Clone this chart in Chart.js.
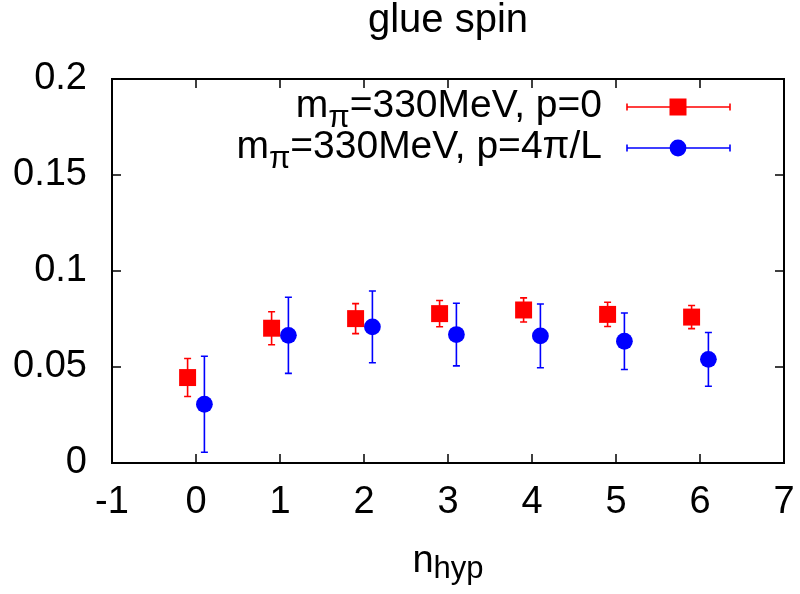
<!DOCTYPE html>
<html>
<head>
<meta charset="utf-8">
<script src="https://cdn.jsdelivr.net/npm/chart.js@4.4.1/dist/chart.umd.min.js"></script>
<style>
html,body{margin:0;padding:0;background:#fff;}
#wrap{width:800px;height:594px;position:relative;}
</style>
</head>
<body>
<div id="wrap"><canvas id="c" width="800" height="594"></canvas></div>
<script>
// ---- data ----
const nHyp = [0, 1, 2, 3, 4, 5, 6];
const p0Values = [0.0445, 0.0702, 0.0752, 0.0778, 0.0797, 0.0774, 0.0760];
const p0Errors = [0.0099, 0.0086, 0.0078, 0.0068, 0.0063, 0.0063, 0.0060];
const p4Values = [0.0306, 0.0665, 0.0709, 0.0669, 0.0662, 0.0634, 0.0540];
const p4Errors = [0.0250, 0.0198, 0.0187, 0.0163, 0.0166, 0.0147, 0.0140];
const xTicks = [-1, 0, 1, 2, 3, 4, 5, 6, 7];
const yTicks = [0, 0.05, 0.1, 0.15, 0.2];
const titleText = 'glue spin';
const seriesLabels = [
  [['m', false], ['π', true], ['=330MeV, p=0', false]],
  [['m', false], ['π', true], ['=330MeV, p=4π/L', false]]
];
const xLabelParts = [['n', false], ['hyp', true]];

const FONT = '"Liberation Sans", Arial, Helvetica, sans-serif';
const RED = '#ff0000';
const BLUE = '#0000ff';
const shift = 0.1;

const ds = [
  {
    label: 'p=0',
    data: nHyp.map((n, i) => ({x: n - shift, y: p0Values[i], e: p0Errors[i]})),
    pointStyle: 'rect', pointRadius: 12, pointHoverRadius: 12,
    backgroundColor: RED, borderColor: RED, borderWidth: 0,
    errColor: RED, showLine: false
  },
  {
    label: 'p=4pi/L',
    data: nHyp.map((n, i) => ({x: n + shift, y: p4Values[i], e: p4Errors[i]})),
    pointStyle: 'circle', pointRadius: 8.4, pointHoverRadius: 8.4,
    backgroundColor: BLUE, borderColor: BLUE, borderWidth: 0,
    errColor: BLUE, showLine: false
  }
];

function drawRich(ctx, parts, xPos, baseline, align, mainSize, subSize, subShift) {
  let total = 0;
  parts.forEach(([t, sub]) => {
    ctx.font = (sub ? subSize : mainSize) + 'px ' + FONT;
    total += ctx.measureText(t).width;
  });
  let x = align === 'right' ? xPos - total : (align === 'center' ? xPos - total / 2 : xPos);
  ctx.textAlign = 'left';
  ctx.textBaseline = 'alphabetic';
  parts.forEach(([t, sub]) => {
    ctx.font = (sub ? subSize : mainSize) + 'px ' + FONT;
    ctx.fillText(t, x, baseline + (sub ? subShift : 0));
    x += ctx.measureText(t).width;
  });
}

const errorBars = {
  id: 'errorBars',
  afterDatasetsDraw(chart) {
    const ctx = chart.ctx;
    const xs = chart.scales.x, ys = chart.scales.y;
    ctx.save();
    chart.data.datasets.forEach(d => {
      ctx.strokeStyle = d.errColor;
      ctx.lineWidth = 1.6;
      d.data.forEach(p => {
        const px = xs.getPixelForValue(p.x);
        const yt = ys.getPixelForValue(p.y + p.e);
        const yb = ys.getPixelForValue(p.y - p.e);
        ctx.beginPath();
        ctx.moveTo(px, yt); ctx.lineTo(px, yb);
        ctx.moveTo(px - 3.5, yt); ctx.lineTo(px + 3.5, yt);
        ctx.moveTo(px - 3.5, yb); ctx.lineTo(px + 3.5, yb);
        ctx.stroke();
      });
    });
    ctx.restore();
  }
};

const frame = {
  id: 'frame',
  afterDraw(chart) {
    const ctx = chart.ctx;
    const a = chart.chartArea;
    const xs = chart.scales.x, ys = chart.scales.y;
    ctx.save();
    // box
    ctx.strokeStyle = '#000';
    ctx.lineWidth = 2;
    ctx.strokeRect(a.left, a.top, a.right - a.left, a.bottom - a.top);
    // inward ticks
    ctx.lineWidth = 1.5;
    const tl = 9;
    ctx.beginPath();
    xTicks.forEach(v => {
      const px = xs.getPixelForValue(v);
      ctx.moveTo(px, a.bottom); ctx.lineTo(px, a.bottom - tl);
      ctx.moveTo(px, a.top); ctx.lineTo(px, a.top + tl);
    });
    yTicks.forEach(v => {
      const py = ys.getPixelForValue(v);
      ctx.moveTo(a.left, py); ctx.lineTo(a.left + tl, py);
      ctx.moveTo(a.right, py); ctx.lineTo(a.right - tl, py);
    });
    ctx.stroke();

    ctx.fillStyle = '#000';
    // title
    ctx.font = '40px ' + FONT;
    ctx.textAlign = 'center';
    ctx.textBaseline = 'alphabetic';
    ctx.fillText(titleText, (a.left + a.right) / 2, 32);
    // x label
    drawRich(ctx, xLabelParts, (a.left + a.right) / 2, 572, 'center', 38, 31, 6);

    // legend
    const textRight = 602;
    const rows = [107, 148];
    chart.data.datasets.forEach((d, i) => {
      const yy = rows[i];
      ctx.fillStyle = '#000';
      drawRich(ctx, seriesLabels[i], textRight, yy + 10, 'right', 39, 31, 10);
      ctx.strokeStyle = d.errColor;
      ctx.lineWidth = 1.6;
      ctx.beginPath();
      ctx.moveTo(627, yy); ctx.lineTo(730, yy);
      ctx.moveTo(627, yy - 3.5); ctx.lineTo(627, yy + 3.5);
      ctx.moveTo(730, yy - 3.5); ctx.lineTo(730, yy + 3.5);
      ctx.stroke();
      ctx.fillStyle = d.backgroundColor;
      if (d.pointStyle === 'rect') {
        ctx.fillRect(678 - 8.5, yy - 8.5, 17, 17);
      } else {
        ctx.beginPath();
        ctx.arc(678, yy, 8.4, 0, Math.PI * 2);
        ctx.fill();
      }
    });
    ctx.restore();
  }
};

const tickFont = {size: 38, family: FONT};

new Chart(document.getElementById('c'), {
  type: 'scatter',
  data: {datasets: ds},
  options: {
    responsive: false,
    animation: false,
    devicePixelRatio: 1,
    layout: {padding: {left: 0, right: 16, top: 79, bottom: 0}},
    plugins: {legend: {display: false}, title: {display: false}, tooltip: {enabled: false}},
    events: [],
    scales: {
      x: {
        type: 'linear', min: -1, max: 7,
        afterBuildTicks: s => { s.ticks = xTicks.map(v => ({value: v})); },
        ticks: {font: {size: 38, family: FONT, lineHeight: 2.1}, color: '#000', padding: 0, maxRotation: 0, autoSkip: false},
        grid: {display: false, drawTicks: false},
        border: {display: false},
        afterFit: s => { s.height = 131; }
      },
      y: {
        type: 'linear', min: 0, max: 0.2,
        afterBuildTicks: s => { s.ticks = yTicks.map(v => ({value: v})); },
        ticks: {font: tickFont, color: '#000', padding: 25, autoSkip: false,
                callback: v => String(v)},
        grid: {display: false, drawTicks: false},
        border: {display: false},
        afterFit: s => { s.width = 112; }
      }
    }
  },
  plugins: [errorBars, frame]
});
</script>
</body>
</html>
